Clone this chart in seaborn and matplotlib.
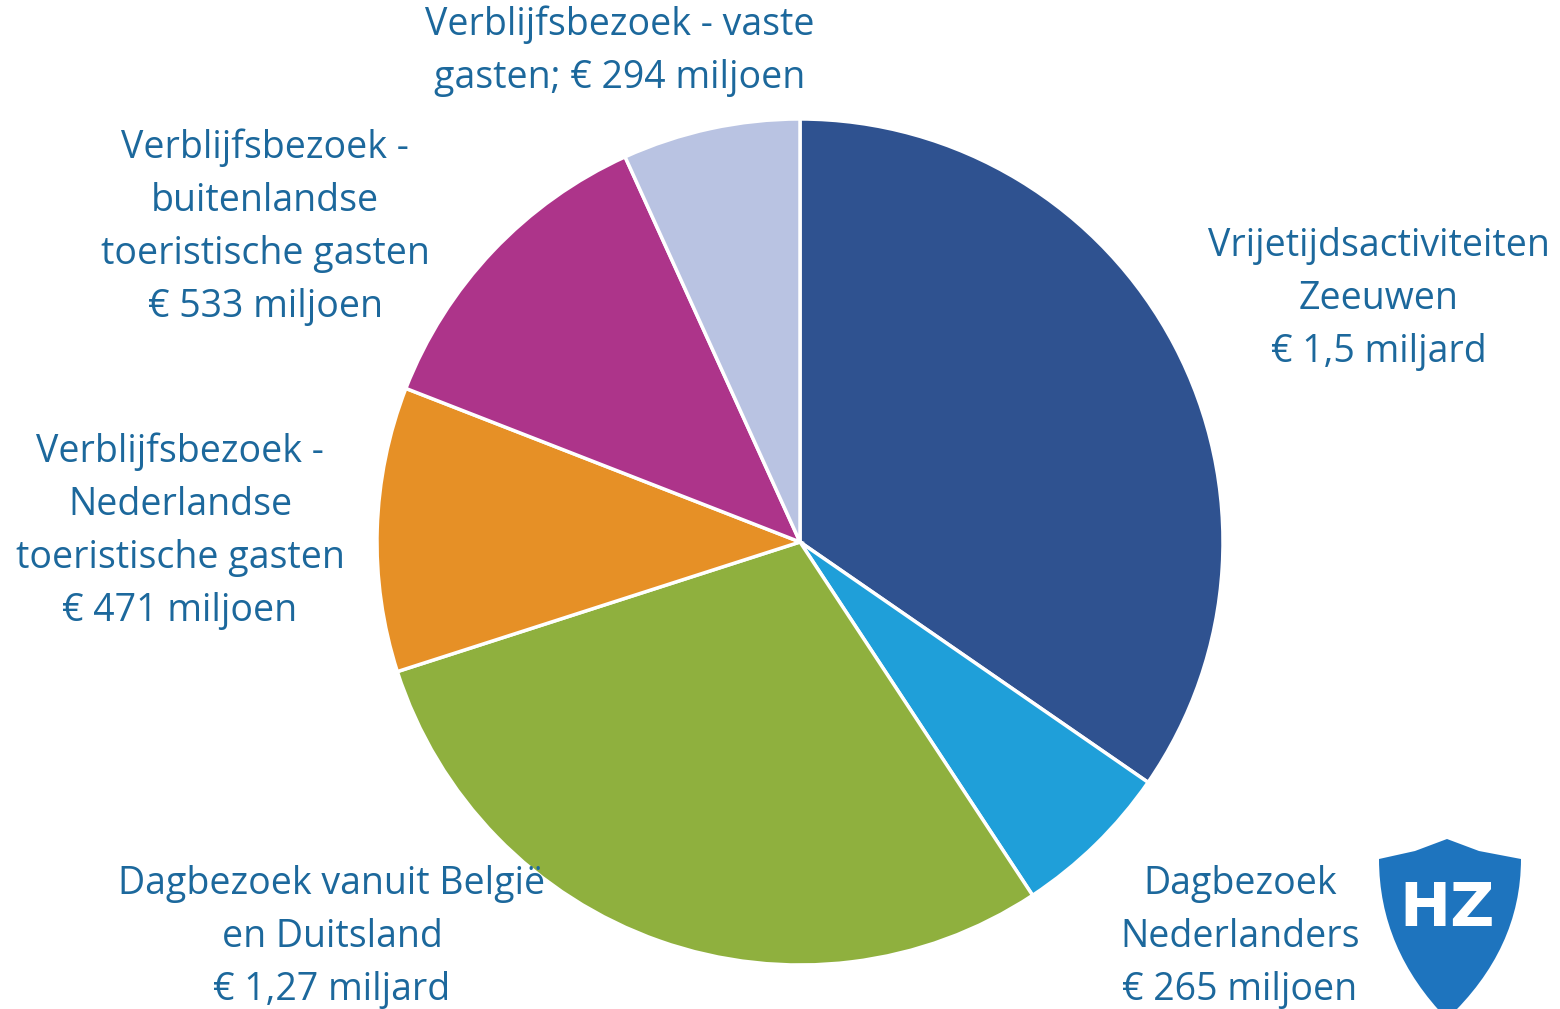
import matplotlib
matplotlib.use("Agg")
import matplotlib.pyplot as plt
import seaborn as sns
from matplotlib.patches import PathPatch
from matplotlib.path import Path

labels = [
    "Vrijetijdsactiviteiten\nZeeuwen\n€ 1,5 miljard",
    "Dagbezoek\nNederlanders\n€ 265 miljoen",
    "Dagbezoek vanuit België\nen Duitsland\n€ 1,27 miljard",
    "Verblijfsbezoek -\nNederlandse\ntoeristische gasten\n€ 471 miljoen",
    "Verblijfsbezoek -\nbuitenlandse\ntoeristische gasten\n€ 533 miljoen",
    "Verblijfsbezoek - vaste\ngasten; € 294 miljoen",
]
values = [1500, 265, 1270, 471, 533, 294]
colors = ["#2F5290", "#1F9FD9", "#8FB03E", "#E69026", "#AD348A", "#B9C3E2"]
label_pos = [(1379, 299), (1240, 937), (332, 937), (180, 531), (265, 227), (620, 51)]

sns.set_theme(style="white")
plt.rcParams["font.family"] = ["Open Sans", "DejaVu Sans"]

W, H = 1560, 1009
fig = plt.figure(figsize=(W / 100, H / 100), dpi=100)
cx, cy, r = 800, 542, 423
ax = fig.add_axes([(cx - r) / W, (H - cy - r) / H, 2 * r / W, 2 * r / H])
ax.pie(values, colors=colors, startangle=90, counterclock=False, radius=1,
       wedgeprops=dict(edgecolor="white", linewidth=2.5))
ax.set_xlim(-1, 1)
ax.set_ylim(-1, 1)
ax.set_aspect("equal")
ax.axis("off")

for lab, (x, y) in zip(labels, label_pos):
    fig.text(x / W, 1 - y / H, lab, ha="center", va="center", color="#1C689C",
             fontsize=27, linespacing=1.52, multialignment="center")

# logo (shield)
lx = fig.add_axes([1375 / W, 0, 185 / W, 175 / H])
lx.set_xlim(0, 185)
lx.set_ylim(0, 175)
lx.axis("off")
verts = [(4, 150), (40, 158), (72, 170), (104, 158), (146, 150),
         (146, 60), (72, -10), (4, 60), (4, 150)]
codes = [Path.MOVETO, Path.LINETO, Path.LINETO, Path.LINETO, Path.LINETO,
         Path.CURVE3, Path.CURVE3, Path.CURVE3, Path.CURVE3]
lx.add_patch(PathPatch(Path(verts, codes), facecolor="#1E74BE", edgecolor="none"))
lx.text(72, 100, "HZ", ha="center", va="center", color="white", fontsize=44,
        fontweight="bold", family=["DejaVu Sans"])

fig.savefig("out.png", dpi=100)
